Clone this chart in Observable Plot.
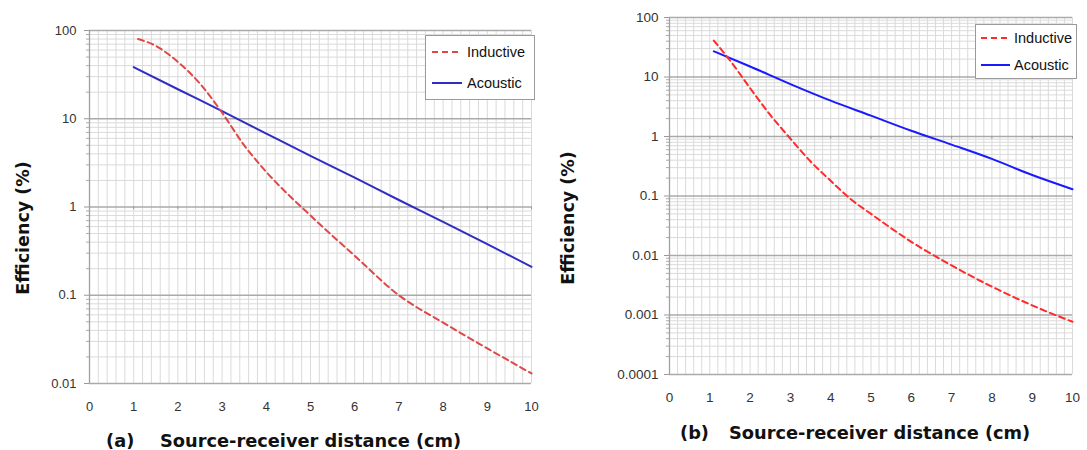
<!DOCTYPE html>
<html><head><meta charset="utf-8">
<script src="https://cdn.jsdelivr.net/npm/d3@7"></script>
<script src="https://cdn.jsdelivr.net/npm/@observablehq/plot@0.6"></script>
<style>
body{margin:0;background:#fff;width:1087px;height:450px;position:relative;overflow:hidden;font-family:"Liberation Sans",Arial,sans-serif;}
.panel{position:absolute;top:0;}
.ylab{position:absolute;font:bold 17.5px "DejaVu Sans",sans-serif;color:#111;white-space:nowrap;transform:translate(-50%,-50%) rotate(-90deg);}
.cap{position:absolute;font:bold 17.8px "DejaVu Sans",sans-serif;color:#111;white-space:nowrap;transform:translateY(-50%);}
.legend{position:absolute;}
</style></head><body>
<div id="pa" class="panel" style="left:0"></div>
<div id="pb" class="panel" style="left:545px"></div>
<div class="ylab" style="left:23px;top:228px">Efficiency (%)</div>
<div class="ylab" style="left:568px;top:218px">Efficiency (%)</div>
<div class="cap" style="left:106px;top:440px">(a)</div>
<div class="cap" style="left:160px;top:440px">Source-receiver distance (cm)</div>
<div class="cap" style="left:680px;top:432px">(b)</div>
<div class="cap" style="left:729px;top:432px">Source-receiver distance (cm)</div>
<div id="la" class="legend" style="left:425px;top:35px"></div>
<div id="lb" class="legend" style="left:975px;top:24px"></div>
<script>
// ---- data ----
const xTickLabels = ["0","1","2","3","4","5","6","7","8","9","10"];
const seriesNames = ["Inductive", "Acoustic"];

// panel (a)
const distAcousticA = [1, 2, 3, 4, 5, 6, 7, 8, 9, 10];
const acousticA     = [38.5, 21.6, 12.2, 6.8, 3.8, 2.15, 1.2, 0.68, 0.38, 0.21];
const distInductiveA = [1.1, 1.5, 2, 2.5, 3, 3.5, 4, 5, 6, 7, 8, 9, 10];
const inductiveA     = [80, 67, 44, 25, 11.7, 5.0, 2.5, 0.8, 0.28, 0.1, 0.049, 0.025, 0.013];
const yTickLabelsA = ["0.01", "0.1", "1", "10", "100"];

// panel (b)
const distAcousticB = [1.1, 2, 3, 4, 5, 6, 7, 8, 9, 10];
const acousticB     = [27, 15, 7.6, 4.0, 2.24, 1.25, 0.73, 0.42, 0.225, 0.13];
const distInductiveB = [1.1, 1.5, 2, 2.5, 3, 3.5, 4, 4.5, 5, 6, 7, 8, 9, 10];
const inductiveB     = [41, 19, 6.5, 2.3, 0.92, 0.38, 0.18, 0.088, 0.05, 0.017, 0.0068, 0.003, 0.00145, 0.00077];
const yTickLabelsB = ["0.0001", "0.001", "0.01", "0.1", "1", "10", "100"];

// ---- build ----
const xTickVals = xTickLabels.map(Number);
const xMinor = d3.range(0, 10.0001, 0.2);

function minorLog(majors) {
  const out = [];
  for (let i = 0; i < majors.length - 1; i++) for (let k = 2; k <= 9; k++) out.push(majors[i] * k);
  return out;
}

function makePanel(cfg) {
  const yMajor = cfg.yLabels.map(Number);
  const yMinor = minorLog(yMajor);
  const yTicks = yMajor.map((v, i) => ({v, label: cfg.yLabels[i]}));
  const xTicks = xTickVals.map((v, i) => ({v, label: xTickLabels[i]}));
  const acoustic = cfg.distA.map((x, i) => ({x, y: cfg.acoustic[i]}));
  const inductive = cfg.distI.map((x, i) => ({x, y: cfg.inductive[i]}));
  return Plot.plot({
    width: cfg.width, height: cfg.height,
    marginLeft: cfg.ml, marginRight: cfg.mr, marginTop: cfg.mt, marginBottom: cfg.mb,
    style: {fontFamily: '"Liberation Sans", Arial, sans-serif', background: "transparent"},
    x: {domain: [0, 10], axis: null},
    y: {type: "log", domain: [yMajor[0], yMajor[yMajor.length - 1]], axis: null},
    marks: [
      Plot.gridX(xMinor, {stroke: "#dadada", strokeOpacity: 1}),
      Plot.gridY(yMinor, {stroke: "#dadada", strokeOpacity: 1}),
      Plot.gridY(yMajor, {stroke: "#aaaaaa", strokeOpacity: 1, strokeWidth: 1.6}),
      Plot.ruleX([0], {stroke: "#a0a0a0", strokeWidth: 1.3}),
      Plot.ruleX(xTickVals.slice(1), {y1: 1, y2: cfg.crossTick, stroke: "#999"}),
      Plot.axisY(yMinor, {tickSize: 3, text: null, stroke: "#aaa", label: null}),
      Plot.axisY(yMajor, {tickSize: 5, text: null, stroke: "#999", label: null}),
      Plot.text(yTicks, {y: "v", text: "label", frameAnchor: "left", textAnchor: "end", dx: -cfg.yPad,
        fontSize: cfg.fs, fill: "#333"}),
      Plot.text(xTicks, {x: "v", text: "label", frameAnchor: "bottom", lineAnchor: "middle", dy: 23,
        fontSize: cfg.fs, fill: "#333"}),
      Plot.line(acoustic, {x: "x", y: "y", stroke: cfg.blue, strokeWidth: 2, curve: "monotone-x"}),
      Plot.line(inductive, {x: "x", y: "y", stroke: cfg.red, strokeWidth: 2, strokeDasharray: "6,4", curve: "monotone-x"})
    ]
  });
}

document.getElementById("pa").append(makePanel({
  width: 545, height: 420, ml: 89, mr: 14, mt: 30, mb: 37,
  yLabels: yTickLabelsA, yPad: 13, fs: 13, crossTick: 0.93,
  distA: distAcousticA, acoustic: acousticA, distI: distInductiveA, inductive: inductiveA,
  blue: "#2e2ec4", red: "#e04848"
}));
document.getElementById("pb").append(makePanel({
  width: 542, height: 420, ml: 124, mr: 15, mt: 17, mb: 46,
  yLabels: yTickLabelsB, yPad: 11, fs: 13.5, crossTick: 0.9,
  distA: distAcousticB, acoustic: acousticB, distI: distInductiveB, inductive: inductiveB,
  blue: "#1a1aff", red: "#ff2a2a"
}));

function legend(el, w, h, y1, y2, x0, x1, tx, blue, red) {
  const s = d3.create("svg").attr("width", w).attr("height", h);
  s.append("rect").attr("x", 0.5).attr("y", 0.5).attr("width", w - 1).attr("height", h - 1)
    .attr("fill", "#fff").attr("stroke", "#9a9a9a");
  const rows = [{name: seriesNames[0], c: red, dash: "6,4", y: y1}, {name: seriesNames[1], c: blue, dash: null, y: y2}];
  for (const r of rows) {
    s.append("line").attr("x1", x0).attr("x2", x1).attr("y1", r.y).attr("y2", r.y)
      .attr("stroke", r.c).attr("stroke-width", 2).attr("stroke-dasharray", r.dash);
    s.append("text").attr("x", tx).attr("y", r.y).attr("dy", "0.35em").attr("font-size", 14.5)
      .attr("font-family", '"Liberation Sans", Arial, sans-serif').attr("fill", "#111").text(r.name);
  }
  document.getElementById(el).append(s.node());
}
legend("la", 110, 65, 17, 48, 7, 37, 42, "#2e2ec4", "#e04848");
legend("lb", 102, 55, 14, 41, 6, 35, 39, "#1a1aff", "#ff2a2a");
</script>
</body></html>
